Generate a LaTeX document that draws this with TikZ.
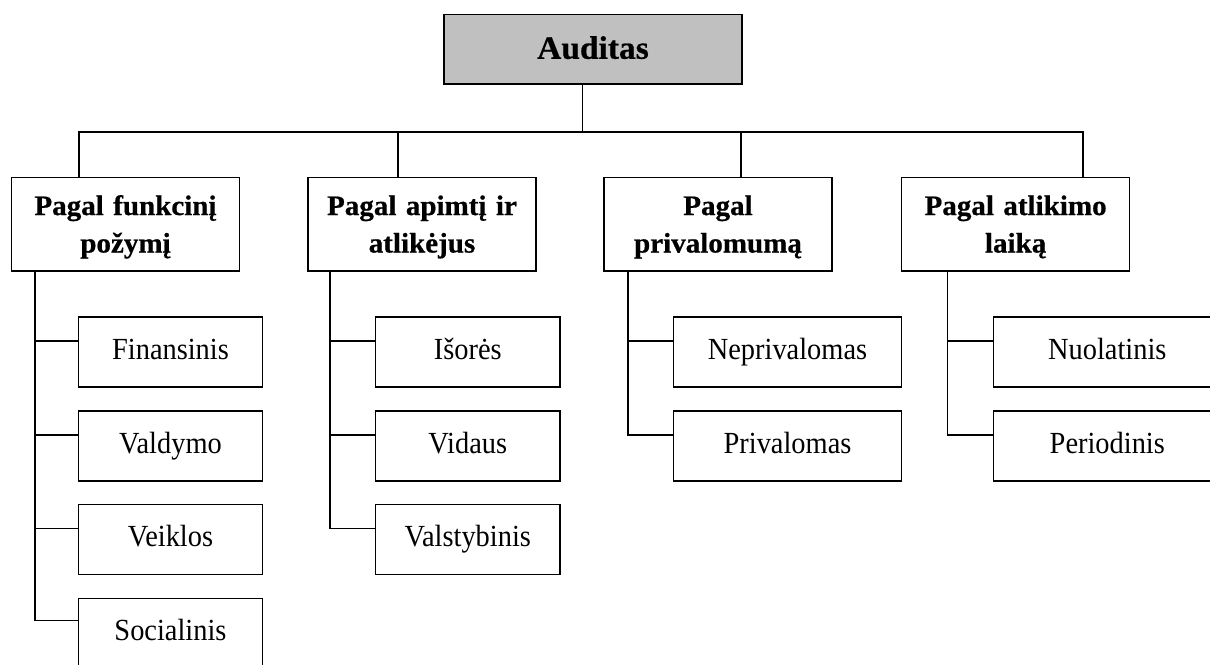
\documentclass[tikz,border=0pt]{standalone}
\usepackage{fontspec}
\setmainfont{Liberation Serif}
\newfontfamily\heavyserif[FakeStretch=1.03,FakeBold=0.6]{Liberation Serif}
\newfontfamily\narrowserif[FakeStretch=0.925]{Liberation Serif}
\definecolor{rootgray}{HTML}{C0C0C0}
\begin{document}
\begin{tikzpicture}[x=1pt,y=-1pt,line width=1.6pt,
  basebox/.style={draw=black,line width=1.6pt,inner sep=0pt,outer sep=0pt,anchor=north west},
  rootbox/.style={basebox,fill=rootgray,minimum width=298pt,minimum height=69.7pt,
    font=\heavyserif\bfseries\fontsize{32.5}{38}\selectfont,text height=21pt,text depth=1.8pt},
  catbox/.style={basebox,minimum width=228pt,minimum height=93.4pt,text width=224pt,align=center,
    font=\heavyserif\bfseries\fontsize{28.2}{37.5}\selectfont,text height=18pt,text depth=36pt},
  subbox/.style={basebox,minimum height=70pt,
    font=\narrowserif\fontsize{30.7}{36}\selectfont,text height=20pt,text depth=5.4pt},
  link/.style={draw=black,line width=1.6pt}]

\path[fill=white,use as bounding box] (0,0) rectangle (1210,664);

% top of the tree
\node[rootbox] (root) at (444,14.3) {Auditas};

% classification groups
\node[catbox] (p1) at (11.5,177.3) {Pagal funkcinį\\požymį};
\node[catbox] (p2) at (308,177.3) {Pagal apimtį ir\\atlikėjus};
\node[catbox] (p3) at (604,177.3) {Pagal\\privalomumą};
\node[catbox] (p4) at (901.6,177.3) {Pagal atlikimo\\laiką};

% audit kinds
\node[subbox,minimum width=184pt] (c11) at (78.5,317) {Finansinis};
\node[subbox,minimum width=184pt] (c12) at (78.5,410.7) {Valdymo};
\node[subbox,minimum width=184pt] (c13) at (78.5,504.3) {Veiklos};
\node[subbox,minimum width=184pt] (c14) at (78.5,598.3) {Socialinis};

\node[subbox,minimum width=184.4pt] (c21) at (375.6,317) {Išorės};
\node[subbox,minimum width=184.4pt] (c22) at (375.6,410.7) {Vidaus};
\node[subbox,minimum width=184.4pt] (c23) at (375.6,504.3) {Valstybinis};

\node[subbox,minimum width=228.2pt] (c31) at (673.4,317) {Neprivalomas};
\node[subbox,minimum width=228.2pt] (c32) at (673.4,410.7) {Privalomas};

\node[subbox,minimum width=228pt] (c41) at (993.3,317) {Nuolatinis};
\node[subbox,minimum width=228pt] (c42) at (993.3,410.7) {Periodinis};

% bus between the root and the groups
\coordinate (bus) at (0,131.7);
\coordinate (r0) at ([xshift=-10.7pt]root.south);
\coordinate (d1) at ([xshift=67.5pt]p1.north west);
\coordinate (d2) at ([xshift=90pt]p2.north west);
\coordinate (d3) at ([xshift=137pt]p3.north west);
\coordinate (d4) at ([xshift=181.4pt]p4.north west);
\draw[link] (r0) -- (r0 |- bus);
\draw[link] (d1) |- (d4 |- bus) -- (d4);
\draw[link] (d2) -- (d2 |- bus);
\draw[link] (d3) -- (d3 |- bus);

% spines below each group
\coordinate (s1) at ([xshift=23.3pt]p1.south west);
\coordinate (s2) at ([xshift=22pt]p2.south west);
\coordinate (s3) at ([xshift=24pt]p3.south west);
\coordinate (s4) at ([xshift=45.9pt]p4.south west);

\foreach \c in {c11,c12,c13,c21,c22,c23,c31,c32,c41,c42}
  \coordinate (j\c) at ([yshift=11pt]\c.west);
\coordinate (jc14) at ([yshift=13pt]c14.west);

\draw[link] (s1) |- (jc14);
\draw[link] (s2) |- (jc23);
\draw[link] (s3) |- (jc32);
\draw[link] (s4) |- (jc42);
\foreach \c/\s in {c11/s1,c12/s1,c13/s1,c21/s2,c22/s2,c31/s3,c41/s4}
  \draw[link] (j\c) -- (j\c -| \s);
\end{tikzpicture}
\end{document}
